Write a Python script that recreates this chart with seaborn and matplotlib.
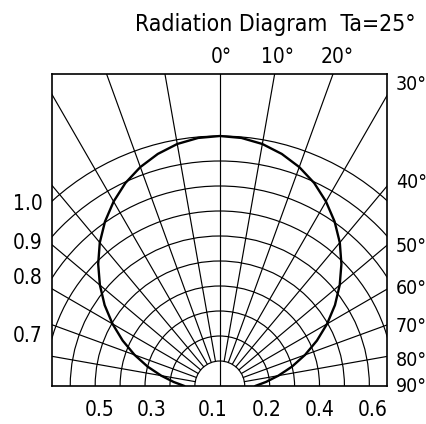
import numpy as np
import pandas as pd
import matplotlib
matplotlib.use("Agg")
import matplotlib.pyplot as plt
from matplotlib.patches import Arc
import seaborn as sns

# ---- data ----
angles_deg = [0, 5, 10, 15, 20, 25, 30, 35, 40, 45, 50, 55, 60, 65, 70, 75, 80, 85, 90]
intensity = [1.00, 0.996, 0.983, 0.961, 0.932, 0.896, 0.852, 0.803, 0.749, 0.690,
             0.628, 0.564, 0.497, 0.430, 0.364, 0.300, 0.239, 0.186, 0.142]
grid_radii = [0.1, 0.2, 0.3, 0.4, 0.5, 0.6, 0.7, 0.8, 0.9, 1.0]
grid_angles = [10, 20, 30, 40, 50, 60, 70, 80]
title_text = "Radiation Diagram  Ta=25°"
top_labels = ["0°", "10°", "20°"]
right_labels = ["30°", "40°", "50°", "60°", "70°", "80°", "90°"]
left_labels = ["1.0", "0.9", "0.8", "0.7"]
bottom_labels = ["0.5", "0.3", "0.1", "0.2", "0.4", "0.6"]

# ---- build curve (mirror both sides) ----
ang = np.array([-a for a in angles_deg[::-1]] + angles_deg[1:], dtype=float)
inten = np.array(intensity[::-1] + intensity[1:], dtype=float)
th = np.deg2rad(ang)
df = pd.DataFrame({"x": inten * np.sin(th), "y": inten * np.cos(th)})

sns.set_theme(style="white")
plt.rcParams["font.family"] = ["DejaVu Sans"]

W, H = 427, 424
fig = plt.figure(figsize=(W / 100, H / 100), dpi=100)
L, R, T, B = 52.3, 387.3, 74, 386
ax = fig.add_axes([L / W, 1 - B / H, (R - L) / W, (B - T) / H])
ax.set_xlim(-0.672, 0.672)
ax.set_ylim(0, 1.248)

lw_grid = 0.85
for r in grid_radii:
    ax.add_patch(Arc((0, 0), 2 * r, 2 * r, theta1=0, theta2=180, color="black", lw=lw_grid))
for a in grid_angles:
    for s in (-1, 1):
        t = np.deg2rad(s * a)
        ax.plot([0.1 * np.sin(t), 2 * np.sin(t)], [0.1 * np.cos(t), 2 * np.cos(t)], color="black", lw=lw_grid)
ax.plot([0, 0], [0, 2], color="black", lw=lw_grid)

sns.lineplot(data=df, x="x", y="y", sort=False, estimator=None, color="black", lw=1.7, ax=ax)

ax.set_xticks([])
ax.set_yticks([])
ax.set_xlabel("")
ax.set_ylabel("")
for sp in ax.spines.values():
    sp.set_visible(True)
    sp.set_color("black")
    sp.set_linewidth(1.2)

def ftext(x, y, s, ha="center", size=15):
    fig.text(x / W, 1 - y / H, s, ha=ha, va="center", fontsize=size, color="black",
             fontstretch="condensed")

ftext(275, 25, title_text, size=16.5)
for s, x in zip(top_labels, [221, 278, 337]):
    ftext(x, 57, s)
for s, y in zip(right_labels, [84, 182, 246, 288, 326, 360, 386]):
    ftext(396, y, s, ha="left", size=14)
for s, y in zip(left_labels, [204, 243, 278, 336]):
    ftext(43, y, s, ha="right")
for s, x in zip(bottom_labels, [100, 152, 213, 267, 320, 373]):
    ftext(x, 410, s)

fig.savefig("out.png", dpi=100)
